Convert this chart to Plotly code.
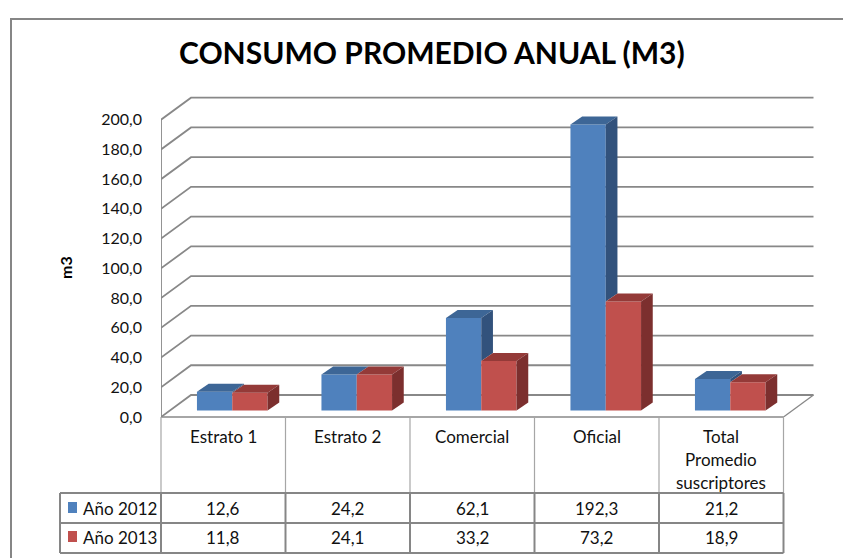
import plotly.graph_objects as go

# ---------------- data ----------------
categories = ["Estrato 1", "Estrato 2", "Comercial", "Oficial", "Total\nPromedio\nsuscriptores"]
series_names = ["Año 2012", "Año 2013"]
values_2012 = [12.6, 24.2, 62.1, 192.3, 21.2]
values_2013 = [11.8, 24.1, 33.2, 73.2, 18.9]
y_ticks = [0, 20, 40, 60, 80, 100, 120, 140, 160, 180, 200]
title_text = "CONSUMO PROMEDIO ANUAL (M3)"
y_title = "m3"

# ---------------- geometry / style ----------------
FW, FH = 843, 558
L, R, T, B = 161, 28, 95, 141
PW = FW - L - R
PH = FH - T - B
PX_X = 124.5            # px per category
PX_Y = 1.4865           # px per m3
X0 = -0.5
X1 = X0 + PW / PX_X
Y1 = PH / PX_Y
DX = 30 / PX_X          # wall depth offset (x units)
DY = 22 / PX_Y          # wall depth offset (y units)
F0 = 0.3                # bar front depth fraction
BAR_W = 35.3 / PX_X
BAR_DDX = 11.7 / PX_X
BAR_DDY = 8 / PX_Y
BASE = F0 * DY

blue = dict(front="#4f81bd", top="#3d6696", side="#32527c")
red = dict(front="#c0504d", top="#943a38", side="#7c2f2e")
grid_col = "#888888"
FONT = "Lato, 'Open Sans', sans-serif"


def xp(px):
    return (px - L) / PW


def yp(py):
    return (FH - B - py) / PH


def fmt(v):
    return f"{v:.1f}".replace(".", ",")


fig = go.Figure()

n = len(categories)
shift = F0 * DX
blue_left = [i + shift - BAR_W for i in range(n)]
red_left = [i + shift for i in range(n)]

# front faces as bars
fig.add_trace(go.Bar(x=[bl + BAR_W / 2 for bl in blue_left], y=values_2012, base=BASE,
                     width=BAR_W, marker=dict(color=blue["front"], line=dict(width=0)),
                     name=series_names[0], showlegend=False, hoverinfo="skip"))
fig.add_trace(go.Bar(x=[rl + BAR_W / 2 for rl in red_left], y=values_2013, base=BASE,
                     width=BAR_W, marker=dict(color=red["front"], line=dict(width=0)),
                     name=series_names[1], showlegend=False, hoverinfo="skip"))


def poly(xs, ys, color):
    fig.add_trace(go.Scatter(x=xs + [xs[0]], y=ys + [ys[0]], mode="lines", fill="toself",
                             fillcolor=color, line=dict(width=0, color=color),
                             showlegend=False, hoverinfo="skip"))


for i in range(n):
    vb, vr = values_2012[i], values_2013[i]
    tb, tr = BASE + vb, BASE + vr
    xl, xr = blue_left[i], blue_left[i] + BAR_W
    poly([xl, xr, xr + BAR_DDX, xl + BAR_DDX], [tb, tb, tb + BAR_DDY, tb + BAR_DDY], blue["top"])
    lo = max(BASE, tr)
    if tb > lo:
        poly([xr, xr + BAR_DDX, xr + BAR_DDX, xr], [lo, lo + BAR_DDY, tb + BAR_DDY, tb], blue["side"])
    xl2, xr2 = red_left[i], red_left[i] + BAR_W
    poly([xl2, xr2, xr2 + BAR_DDX, xl2 + BAR_DDX], [tr, tr, tr + BAR_DDY, tr + BAR_DDY], red["top"])
    poly([xr2, xr2 + BAR_DDX, xr2 + BAR_DDX, xr2], [BASE, BASE + BAR_DDY, tr + BAR_DDY, tr], red["side"])

shapes = []
for v in y_ticks:
    shapes.append(dict(type="path", xref="x", yref="y", layer="below",
                       path=f"M {X0},{v} L {X0 + DX},{v + DY} L {X0 + n + DX},{v + DY}",
                       line=dict(color=grid_col, width=1.8)))
shapes.append(dict(type="line", xref="x", yref="y", layer="below", x0=X0, x1=X0, y0=0, y1=y_ticks[-1],
                   line=dict(color=grid_col, width=1.8)))
shapes.append(dict(type="line", xref="x", yref="y", layer="below", x0=X0 + n, x1=X0 + n + DX, y0=0, y1=DY,
                   line=dict(color=grid_col, width=1.3)))

# table
col_px = [L + k * PX_X for k in range(n + 1)]
hdr_top, hdr_bot, r1_bot, r2_bot = 417, 493, 523, 553
leg_left = 60
shapes.append(dict(type="line", xref="paper", yref="paper", x0=xp(col_px[0]), x1=xp(col_px[-1]),
                   y0=yp(hdr_top), y1=yp(hdr_top), line=dict(color=grid_col, width=1.5)))
for cx in col_px:
    shapes.append(dict(type="line", xref="paper", yref="paper", x0=xp(cx), x1=xp(cx),
                       y0=yp(hdr_top), y1=yp(hdr_bot), line=dict(color="#a6a6a6", width=1.2)))
for ry in (hdr_bot, r1_bot, r2_bot):
    shapes.append(dict(type="line", xref="paper", yref="paper", x0=xp(leg_left), x1=xp(col_px[-1]),
                       y0=yp(ry), y1=yp(ry), line=dict(color="#868686", width=2)))
for cx in [leg_left] + col_px:
    shapes.append(dict(type="line", xref="paper", yref="paper", x0=xp(cx), x1=xp(cx),
                       y0=yp(hdr_bot), y1=yp(r2_bot), line=dict(color="#868686", width=2)))
for (y_a, y_b), c in (((502, 513), blue["front"]), ((531, 542), red["front"])):
    shapes.append(dict(type="rect", xref="paper", yref="paper", x0=xp(68), x1=xp(77),
                       y0=yp(y_b), y1=yp(y_a), fillcolor=c, line=dict(width=0)))
shapes.append(dict(type="rect", xref="paper", yref="paper", x0=xp(11), x1=xp(900), y0=yp(620), y1=yp(19),
                   line=dict(color="#868686", width=2), fillcolor="rgba(0,0,0,0)"))

annotations = []
annotations.append(dict(text=f"<b>{title_text}</b>", xref="paper", yref="paper", x=xp(432), y=yp(52),
                        xanchor="center", yanchor="middle",
                        showarrow=False, font=dict(size=30, color="black", family=FONT)))
annotations.append(dict(text=f"<b>{y_title}</b>", xref="paper", yref="paper", x=xp(65), y=yp(268),
                        xanchor="center", yanchor="middle",
                        textangle=-90, showarrow=False, font=dict(size=16, color="black", family=FONT)))
for i, c in enumerate(categories):
    for j, line in enumerate(c.split("\n")):
        annotations.append(dict(text=line, xref="x", yref="paper", x=i, y=yp(436 + 23.3 * j),
                                xanchor="center", yanchor="middle",
                                showarrow=False, font=dict(size=17, color="#111", family=FONT)))
    annotations.append(dict(text=fmt(values_2012[i]), xref="x", yref="paper", x=i, y=yp(508),
                            xanchor="center", yanchor="middle",
                            showarrow=False, font=dict(size=17, color="#111", family=FONT)))
    annotations.append(dict(text=fmt(values_2013[i]), xref="x", yref="paper", x=i, y=yp(537.5),
                            xanchor="center", yanchor="middle",
                            showarrow=False, font=dict(size=17, color="#111", family=FONT)))
for name, yy in zip(series_names, (508, 537.5)):
    annotations.append(dict(text=name, xref="paper", yref="paper", x=xp(81), y=yp(yy),
                            xanchor="left", yanchor="middle",
                            showarrow=False, font=dict(size=17, color="#111", family=FONT)))

fig.update_layout(
    width=FW, height=FH, margin=dict(l=L, r=R, t=T, b=B, pad=0),
    paper_bgcolor="white", plot_bgcolor="white",
    separators=",.",
    showlegend=False, shapes=shapes, annotations=annotations,
    xaxis=dict(range=[X0, X1], visible=False, fixedrange=True),
    yaxis=dict(range=[0, Y1], tickvals=y_ticks, tickformat=".1f", showgrid=False, zeroline=False,
               showline=False, ticks="", ticklabelstandoff=18, fixedrange=True,
               tickfont=dict(size=16, color="#111", family=FONT)),
)

fig.write_html("out.html", config={"displayModeBar": False},
               post_script="document.body.style.margin='0px';")
